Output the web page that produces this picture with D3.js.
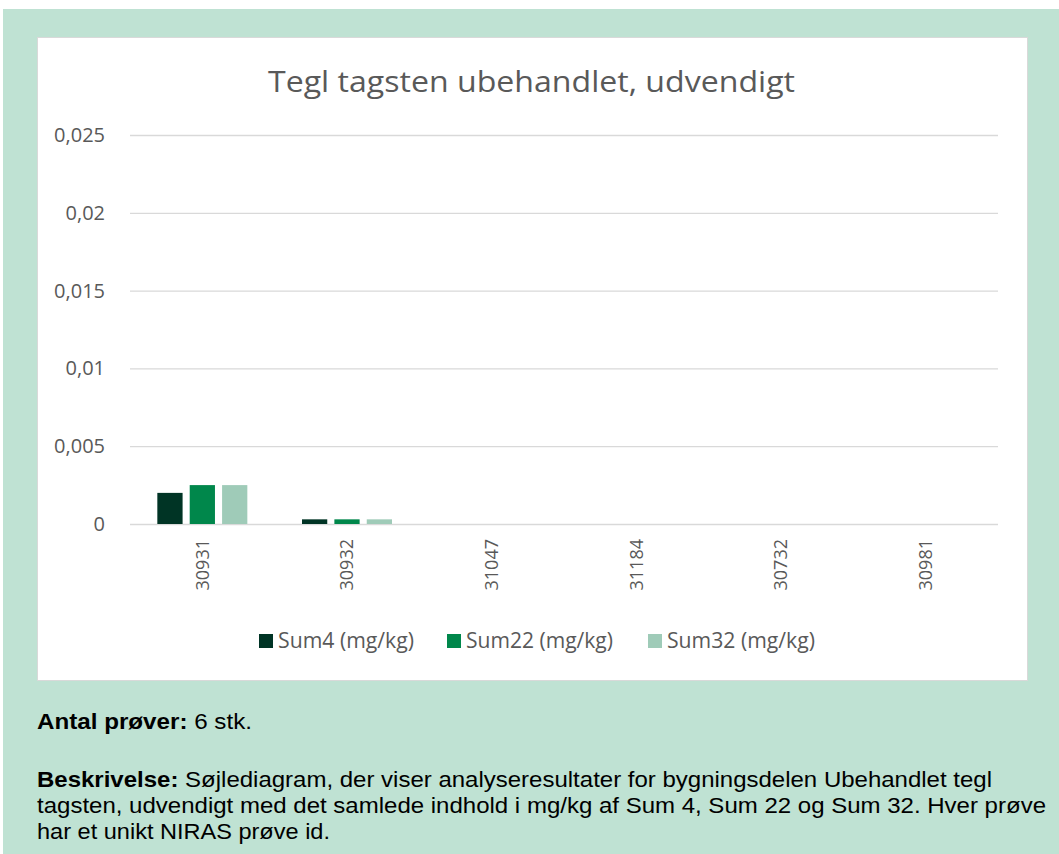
<!DOCTYPE html>
<html>
<head>
<meta charset="utf-8">
<script src="https://cdn.jsdelivr.net/npm/d3@7"></script>
<style>
  body { margin: 0; background: #fff; }
  svg { display: block; }
</style>
</head>
<body>
<div id="chart"></div>
<script>
const categories = ['30931', '30932', '31047', '31184', '30732', '30981'];
const seriesNames = ['Sum4 (mg/kg)', 'Sum22 (mg/kg)', 'Sum32 (mg/kg)'];
const sum4 = [0.002, 0.0003, 0, 0, 0, 0];
const sum22 = [0.0025, 0.0003, 0, 0, 0, 0];
const sum32 = [0.0025, 0.0003, 0, 0, 0, 0];
const yTicks = [0, 0.005, 0.01, 0.015, 0.02, 0.025];
const colors = ['#003425', '#00874b', '#9fcbb8'];

const seriesValues = [sum4, sum22, sum32];
const data = categories.map((c, i) => ({
    id: c,
    values: seriesNames.map((s, j) => ({ key: s, idx: j, value: seriesValues[j][i] }))
}));

const outerWidth = 1059;
const outerHeight = 854;
const margin = { left: 130, top: 135, right: 61, bottom: 330 };
const innerWidth = outerWidth - (margin.left + margin.right);
const innerHeight = outerHeight - (margin.top + margin.bottom);

const chartFont = "'Open Sans', 'Noto Sans', sans-serif";
const textColor = '#595959';

// stretch a text to the width it has in the picture
const fit = (sel, w) => sel.attr('textLength', w).attr('lengthAdjust', 'spacingAndGlyphs');

const svg = d3.select('#chart')
    .append('svg')
    .attr('width', outerWidth)
    .attr('height', outerHeight);

// green panel and white chart area
svg.append('rect')
    .attr('x', 3).attr('y', 9)
    .attr('width', outerWidth - 3).attr('height', outerHeight - 9)
    .attr('fill', '#bfe2d3');
svg.append('rect')
    .attr('x', 37.5).attr('y', 37.5)
    .attr('width', 990).attr('height', 643)
    .attr('fill', '#fff')
    .attr('stroke', '#d9d9d9');

svg.append('text')
    .attr('x', 268).attr('y', 92)
    .attr('font-family', chartFont)
    .attr('font-size', 30)
    .attr('fill', textColor)
    .text('Tegl tagsten ubehandlet, udvendigt')
    .call(fit, 527);

const xScale = d3.scaleBand()
    .domain(categories)
    .range([0, innerWidth]);
const xInner = d3.scaleBand()
    .domain(d3.range(seriesNames.length))
    .range([xScale.bandwidth() / 2 - 45, xScale.bandwidth() / 2 + 45])
    .paddingInner(0.22);
const yScale = d3.scaleLinear()
    .domain([0, 0.025])
    .range([innerHeight, 0]);

const g = svg.append('g')
    .attr('transform', 'translate(' + margin.left + ',' + margin.top + ')');

const yAxis = d3.axisLeft(yScale)
    .tickValues(yTicks)
    .tickSize(-innerWidth)
    .tickFormat(d => d === 0 ? '0' : String(d).replace('.', ','));
const yAxisG = g.append('g').call(yAxis);
yAxisG.select('.domain').remove();
yAxisG.selectAll('line').attr('stroke', '#d9d9d9').attr('stroke-width', 1.3);
yAxisG.selectAll('text')
    .attr('x', -25)
    .attr('font-family', chartFont)
    .attr('font-size', 20)
    .attr('fill', textColor);

const xAxis = d3.axisBottom(xScale).tickSize(0);
const xAxisG = g.append('g')
    .attr('transform', 'translate(0,' + innerHeight + ')')
    .call(xAxis);
xAxisG.select('.domain').remove();
xAxisG.selectAll('text')
    .attr('transform', 'rotate(-90)')
    .attr('x', -15)
    .attr('y', 0)
    .attr('dy', '0.35em')
    .attr('text-anchor', 'end')
    .attr('font-family', chartFont)
    .attr('font-size', 18)
    .attr('fill', textColor);

const groups = g.selectAll('.grp')
    .data(data)
    .enter()
    .append('g')
    .attr('class', 'grp')
    .attr('transform', d => 'translate(' + xScale(d.id) + ',0)');
groups.selectAll('rect')
    .data(d => d.values)
    .enter()
    .append('rect')
    .attr('x', d => xInner(d.idx))
    .attr('y', d => yScale(d.value))
    .attr('width', xInner.bandwidth())
    .attr('height', d => innerHeight - yScale(d.value))
    .attr('fill', d => colors[d.idx]);

// legend
const legendX = [259, 447, 648];
const legendW = [136, 147, 148];
const legend = svg.append('g').selectAll('g')
    .data(seriesNames)
    .enter()
    .append('g')
    .attr('transform', (d, i) => 'translate(' + legendX[i] + ',634)');
legend.append('rect')
    .attr('width', 14).attr('height', 14)
    .attr('fill', (d, i) => colors[i]);
legend.append('text')
    .attr('x', 19).attr('y', 7)
    .attr('dy', '0.35em')
    .attr('font-family', chartFont)
    .attr('font-size', 21)
    .attr('fill', textColor)
    .text(d => d)
    .each(function (d, i) { d3.select(this).call(fit, legendW[i]); });

// notes under the chart
const noteFont = "'Liberation Sans', Arial, sans-serif";
const notes = [
    { y: 729, w: 215, bold: 'Antal prøver:', rest: ' 6 stk.' },
    { y: 787, w: 955, bold: 'Beskrivelse:', rest: ' Søjlediagram, der viser analyseresultater for bygningsdelen Ubehandlet tegl' },
    { y: 813, w: 1009, bold: '', rest: 'tagsten, udvendigt med det samlede indhold i mg/kg af Sum 4, Sum 22 og Sum 32. Hver prøve' },
    { y: 839, w: 293, bold: '', rest: 'har et unikt NIRAS prøve id.' }
];
notes.forEach(n => {
    const t = svg.append('text')
        .attr('x', 37).attr('y', n.y)
        .attr('font-family', noteFont)
        .attr('font-size', 21.5)
        .attr('fill', '#000');
    if (n.bold) t.append('tspan').attr('font-weight', 'bold').text(n.bold);
    t.append('tspan').text(n.rest);
    t.call(fit, n.w);
});
</script>
</body>
</html>
